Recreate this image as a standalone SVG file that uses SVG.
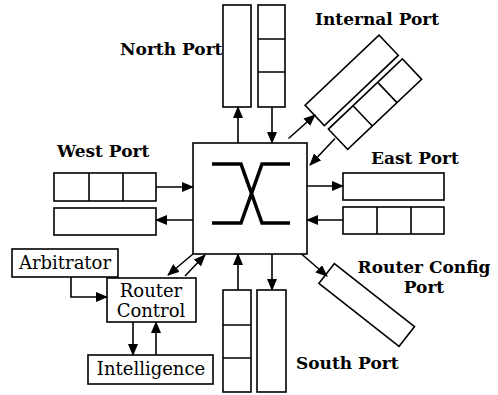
<svg xmlns="http://www.w3.org/2000/svg" width="498" height="395" viewBox="0 0 498 395">
<defs>
<style>
.b{fill:#fff;stroke:#000;stroke-width:1.6}
.d{fill:none;stroke:#000;stroke-width:1.6}
.c{fill:none;stroke:#000;stroke-width:1.6;marker-end:url(#ah)}
.lb{font-family:"DejaVu Serif","Liberation Serif",serif;font-weight:bold;font-size:17px;fill:#000}
.lt{font-family:"DejaVu Serif","Liberation Serif",serif;font-size:18px;fill:#000}
</style>
<marker id="ah" markerWidth="12" markerHeight="10" refX="11" refY="5" orient="auto" markerUnits="userSpaceOnUse">
<path d="M0,0 L12,5 L0,10 Z" fill="#000"/>
</marker>
</defs>
<rect width="498" height="395" fill="#fff"/>

<g id="switch">
<rect class="b" x="193" y="143" width="114" height="111"/>
<path d="M212,164 H241 L262,223 H290 M290,164 H262 L241,223 H212" fill="none" stroke="#000" stroke-width="3.5"/>
</g>

<g id="north-port">
<rect class="b" x="223" y="5" width="28" height="102"/>
<rect class="b" x="258" y="5" width="27" height="102"/>
<path class="d" d="M258,39 H285 M258,72 H285"/>
<text class="lb" x="120" y="55">North Port</text>
</g>

<g id="internal-port">
<g transform="translate(351.7,80.3) rotate(-43.5)">
<rect class="b" x="-51" y="-14" width="102" height="28"/>
</g>
<g transform="translate(375,104.2) rotate(-43.5)">
<rect class="b" x="-51" y="-14" width="102" height="28"/>
<path class="d" d="M-17,-14 V14 M17,-14 V14"/>
</g>
<text class="lb" x="315" y="25">Internal Port</text>
</g>

<g id="east-port">
<rect class="b" x="343" y="173" width="101" height="27"/>
<rect class="b" x="343" y="207" width="101" height="27"/>
<path class="d" d="M377,207 V234 M411,207 V234"/>
<text class="lb" x="371" y="164">East Port</text>
</g>

<g id="west-port">
<rect class="b" x="54" y="173" width="102" height="28"/>
<path class="d" d="M89,173 V201 M123,173 V201"/>
<rect class="b" x="54" y="208" width="102" height="27"/>
<text class="lb" x="57" y="157">West Port</text>
</g>

<g id="south-port">
<rect class="b" x="223" y="290" width="28" height="102"/>
<path class="d" d="M223,325 H251 M223,358 H251"/>
<rect class="b" x="257" y="290" width="29" height="102"/>
<text class="lb" x="296" y="369">South Port</text>
</g>

<g id="router-config-port">
<g transform="translate(366.7,305) rotate(38.2)">
<rect class="b" x="-51" y="-12.5" width="102" height="25"/>
</g>
<text class="lb" x="424" y="273" text-anchor="middle">Router Config</text>
<text class="lb" x="424" y="293" text-anchor="middle">Port</text>
</g>

<g id="arbitrator">
<rect class="b" x="12" y="249" width="106" height="28"/>
<text class="lt" x="65" y="269" text-anchor="middle">Arbitrator</text>
</g>

<g id="router-control">
<rect class="b" x="107" y="278" width="89" height="44"/>
<text class="lt" x="151" y="297" text-anchor="middle">Router</text>
<text class="lt" x="151" y="317" text-anchor="middle">Control</text>
</g>

<g id="intelligence">
<rect class="b" x="88" y="355" width="125" height="29"/>
<text class="lt" x="151" y="375" text-anchor="middle">Intelligence</text>
</g>

<g id="connectors">
<path class="c" d="M238,143 V107"/>
<path class="c" d="M272,107 V143"/>
<path class="c" d="M288.5,138.5 L315,115"/>
<path class="c" d="M335,138.5 L310,165"/>
<path class="c" d="M307,186 H343"/>
<path class="c" d="M343,220 H307"/>
<path class="c" d="M156,187 H193"/>
<path class="c" d="M193,220 H156"/>
<path class="c" d="M238,290 V254"/>
<path class="c" d="M272,254 V290"/>
<path class="c" d="M301.5,254 L327,276"/>
<path class="c" d="M193,254 L168,275"/>
<path class="c" d="M185,276 L205,255"/>
<path class="c" d="M71,277 V297 H107"/>
<path class="c" d="M133,322 V355"/>
<path class="c" d="M156,355 V322"/>
</g>
</svg>
